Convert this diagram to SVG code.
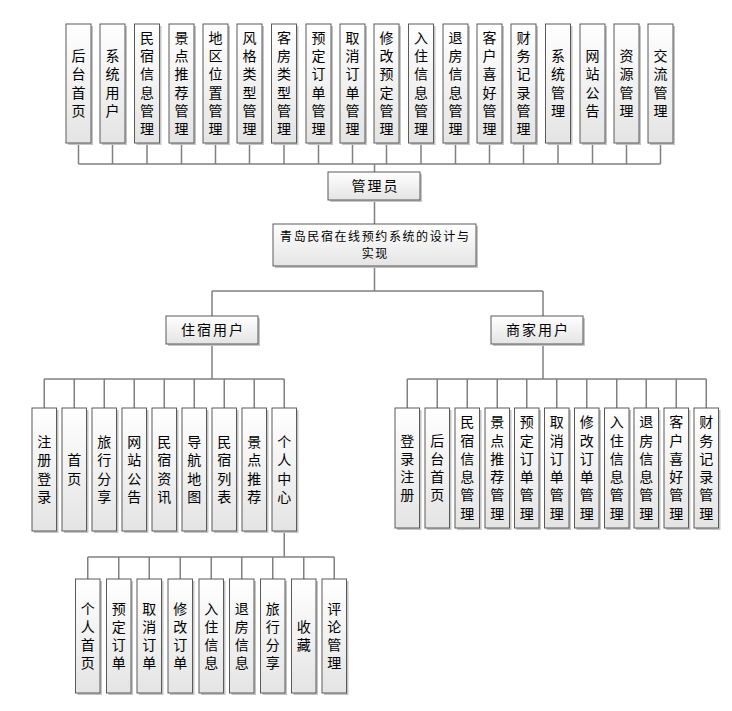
<svg xmlns="http://www.w3.org/2000/svg" width="732" height="711" viewBox="0 0 732 711">
<defs>
<linearGradient id="g" x1="0" y1="0" x2="0" y2="1"><stop offset="0" stop-color="#ffffff"/><stop offset="1" stop-color="#e4e4e4"/></linearGradient>
<style>
.b{fill:url(#g);stroke:#5a5a5a;stroke-width:1}
.s{fill:#c4c4c4}
.v{font-family:"Noto Sans CJK SC","Noto Sans CJK JP",sans-serif;font-size:14px;text-anchor:middle;fill:#000}
.h{font-family:"Noto Sans CJK SC","Noto Sans CJK JP",sans-serif;font-size:14px;text-anchor:middle;fill:#000;letter-spacing:2px}
.t{font-family:"Noto Sans CJK SC","Noto Sans CJK JP",sans-serif;font-size:12px;text-anchor:middle;fill:#000;letter-spacing:1.6px}
.c{fill:none;stroke:#808080;stroke-width:1.5}
</style>
</defs>
<rect width="732" height="711" fill="#fff"/>
<g id="connectors">
<path class="c" d="M78.5 143V164M112.5 143V164M147 143V164M181.5 143V164M215.5 143V164M249.5 143V164M284 143V164M318.5 143V164M352.5 143V164M386.5 143V164M421 143V164M455.5 143V164M489.5 143V164M523.5 143V164M558 143V164M592.5 143V164M626.5 143V164M660.5 143V164M78.5 164H660.5M374.5 164V172"/>
<path class="c" d="M374.5 200V224M374.5 266V291M212 291H543M212 291V316M543 291V316"/>
<path class="c" d="M212 344V379M44.25 379H284.25M44.25 379V408M74.25 379V408M104.25 379V408M134.25 379V408M164.25 379V408M194.25 379V408M224.25 379V408M254.25 379V408M284.25 379V408"/>
<path class="c" d="M543 344V379M407.25 379H706.25M407.25 379V408M437.25 379V408M467.25 379V408M497.25 379V408M526.75 379V408M556.75 379V408M586.75 379V408M616.75 379V408M646.25 379V408M676.25 379V408M706.25 379V408"/>
<path class="c" d="M284.25 531V557M87.75 557H334.25M87.75 557V579M118.75 557V579M149.25 557V579M180.25 557V579M211.25 557V579M241.75 557V579M272.75 557V579M303.75 557V579M334.25 557V579"/>
</g>

<g id="admin-0"><rect class="s" x="68" y="26" width="25" height="119"/><rect class="b" x="66" y="24" width="25" height="119"/><text class="v" x="78.5 78.5 78.5 78.5" y="61 79.3 97.6 115.9">后台首页</text></g>
<g id="admin-1"><rect class="s" x="102" y="26" width="25" height="119"/><rect class="b" x="100" y="24" width="25" height="119"/><text class="v" x="112.5 112.5 112.5 112.5" y="61 79.3 97.6 115.9">系统用户</text></g>
<g id="admin-2"><rect class="s" x="136.5" y="26" width="25" height="119"/><rect class="b" x="134.5" y="24" width="25" height="119"/><text class="v" x="147 147 147 147 147 147" y="42.8 61.1 79.4 97.7 116 134.3">民宿信息管理</text></g>
<g id="admin-3"><rect class="s" x="171" y="26" width="25" height="119"/><rect class="b" x="169" y="24" width="25" height="119"/><text class="v" x="181.5 181.5 181.5 181.5 181.5 181.5" y="42.8 61.1 79.4 97.7 116 134.3">景点推荐管理</text></g>
<g id="admin-4"><rect class="s" x="205" y="26" width="25" height="119"/><rect class="b" x="203" y="24" width="25" height="119"/><text class="v" x="215.5 215.5 215.5 215.5 215.5 215.5" y="42.8 61.1 79.4 97.7 116 134.3">地区位置管理</text></g>
<g id="admin-5"><rect class="s" x="239" y="26" width="25" height="119"/><rect class="b" x="237" y="24" width="25" height="119"/><text class="v" x="249.5 249.5 249.5 249.5 249.5 249.5" y="42.8 61.1 79.4 97.7 116 134.3">风格类型管理</text></g>
<g id="admin-6"><rect class="s" x="273.5" y="26" width="25" height="119"/><rect class="b" x="271.5" y="24" width="25" height="119"/><text class="v" x="284 284 284 284 284 284" y="42.8 61.1 79.4 97.7 116 134.3">客房类型管理</text></g>
<g id="admin-7"><rect class="s" x="308" y="26" width="25" height="119"/><rect class="b" x="306" y="24" width="25" height="119"/><text class="v" x="318.5 318.5 318.5 318.5 318.5 318.5" y="42.8 61.1 79.4 97.7 116 134.3">预定订单管理</text></g>
<g id="admin-8"><rect class="s" x="342" y="26" width="25" height="119"/><rect class="b" x="340" y="24" width="25" height="119"/><text class="v" x="352.5 352.5 352.5 352.5 352.5 352.5" y="42.8 61.1 79.4 97.7 116 134.3">取消订单管理</text></g>
<g id="admin-9"><rect class="s" x="376" y="26" width="25" height="119"/><rect class="b" x="374" y="24" width="25" height="119"/><text class="v" x="386.5 386.5 386.5 386.5 386.5 386.5" y="42.8 61.1 79.4 97.7 116 134.3">修改预定管理</text></g>
<g id="admin-10"><rect class="s" x="410.5" y="26" width="25" height="119"/><rect class="b" x="408.5" y="24" width="25" height="119"/><text class="v" x="421 421 421 421 421 421" y="42.8 61.1 79.4 97.7 116 134.3">入住信息管理</text></g>
<g id="admin-11"><rect class="s" x="445" y="26" width="25" height="119"/><rect class="b" x="443" y="24" width="25" height="119"/><text class="v" x="455.5 455.5 455.5 455.5 455.5 455.5" y="42.8 61.1 79.4 97.7 116 134.3">退房信息管理</text></g>
<g id="admin-12"><rect class="s" x="479" y="26" width="25" height="119"/><rect class="b" x="477" y="24" width="25" height="119"/><text class="v" x="489.5 489.5 489.5 489.5 489.5 489.5" y="42.8 61.1 79.4 97.7 116 134.3">客户喜好管理</text></g>
<g id="admin-13"><rect class="s" x="513" y="26" width="25" height="119"/><rect class="b" x="511" y="24" width="25" height="119"/><text class="v" x="523.5 523.5 523.5 523.5 523.5 523.5" y="42.8 61.1 79.4 97.7 116 134.3">财务记录管理</text></g>
<g id="admin-14"><rect class="s" x="547.5" y="26" width="25" height="119"/><rect class="b" x="545.5" y="24" width="25" height="119"/><text class="v" x="558 558 558 558" y="61 79.3 97.6 115.9">系统管理</text></g>
<g id="admin-15"><rect class="s" x="582" y="26" width="25" height="119"/><rect class="b" x="580" y="24" width="25" height="119"/><text class="v" x="592.5 592.5 592.5 592.5" y="61 79.3 97.6 115.9">网站公告</text></g>
<g id="admin-16"><rect class="s" x="616" y="26" width="25" height="119"/><rect class="b" x="614" y="24" width="25" height="119"/><text class="v" x="626.5 626.5 626.5 626.5" y="61 79.3 97.6 115.9">资源管理</text></g>
<g id="admin-17"><rect class="s" x="650" y="26" width="25" height="119"/><rect class="b" x="648" y="24" width="25" height="119"/><text class="v" x="660.5 660.5 660.5 660.5" y="61 79.3 97.6 115.9">交流管理</text></g>

<g id="admin"><rect class="s" x="330" y="174" width="92" height="28"/><rect class="b" x="328" y="172" width="92" height="28"/><text class="h" x="375.5" y="191">管理员</text></g>
<g id="system"><rect class="s" x="275" y="226" width="203" height="42"/><rect class="b" x="273" y="224" width="203" height="42"/><text class="t" x="375.3" y="241.3">青岛民宿在线预约系统的设计与</text><text class="t" x="375.3" y="258">实现</text></g>
<g id="guest"><rect class="s" x="168" y="318" width="92" height="28"/><rect class="b" x="166" y="316" width="92" height="28"/><text class="h" x="213" y="335">住宿用户</text></g>
<g id="merchant"><rect class="s" x="493" y="318" width="92" height="28"/><rect class="b" x="491" y="316" width="92" height="28"/><text class="h" x="538" y="335">商家用户</text></g>

<g id="guest-0"><rect class="s" x="34" y="410" width="24.5" height="123"/><rect class="b" x="32" y="408" width="24.5" height="123"/><text class="v" x="44.25 44.25 44.25 44.25" y="447 465.3 483.6 501.9">注册登录</text></g>
<g id="guest-1"><rect class="s" x="64" y="410" width="24.5" height="123"/><rect class="b" x="62" y="408" width="24.5" height="123"/><text class="v" x="74.25 74.25" y="465.3 483.6">首页</text></g>
<g id="guest-2"><rect class="s" x="94" y="410" width="24.5" height="123"/><rect class="b" x="92" y="408" width="24.5" height="123"/><text class="v" x="104.25 104.25 104.25 104.25" y="447 465.3 483.6 501.9">旅行分享</text></g>
<g id="guest-3"><rect class="s" x="124" y="410" width="24.5" height="123"/><rect class="b" x="122" y="408" width="24.5" height="123"/><text class="v" x="134.25 134.25 134.25 134.25" y="447 465.3 483.6 501.9">网站公告</text></g>
<g id="guest-4"><rect class="s" x="154" y="410" width="24.5" height="123"/><rect class="b" x="152" y="408" width="24.5" height="123"/><text class="v" x="164.25 164.25 164.25 164.25" y="447 465.3 483.6 501.9">民宿资讯</text></g>
<g id="guest-5"><rect class="s" x="184" y="410" width="24.5" height="123"/><rect class="b" x="182" y="408" width="24.5" height="123"/><text class="v" x="194.25 194.25 194.25 194.25" y="447 465.3 483.6 501.9">导航地图</text></g>
<g id="guest-6"><rect class="s" x="214" y="410" width="24.5" height="123"/><rect class="b" x="212" y="408" width="24.5" height="123"/><text class="v" x="224.25 224.25 224.25 224.25" y="447 465.3 483.6 501.9">民宿列表</text></g>
<g id="guest-7"><rect class="s" x="244" y="410" width="24.5" height="123"/><rect class="b" x="242" y="408" width="24.5" height="123"/><text class="v" x="254.25 254.25 254.25 254.25" y="447 465.3 483.6 501.9">景点推荐</text></g>
<g id="guest-8"><rect class="s" x="274" y="410" width="24.5" height="123"/><rect class="b" x="272" y="408" width="24.5" height="123"/><text class="v" x="284.25 284.25 284.25 284.25" y="447 465.3 483.6 501.9">个人中心</text></g>

<g id="merchant-0"><rect class="s" x="397" y="410" width="24.5" height="120"/><rect class="b" x="395" y="408" width="24.5" height="120"/><text class="v" x="407.25 407.25 407.25 407.25" y="445.5 463.8 482.1 500.4">登录注册</text></g>
<g id="merchant-1"><rect class="s" x="427" y="410" width="24.5" height="120"/><rect class="b" x="425" y="408" width="24.5" height="120"/><text class="v" x="437.25 437.25 437.25 437.25" y="445.5 463.8 482.1 500.4">后台首页</text></g>
<g id="merchant-2"><rect class="s" x="457" y="410" width="24.5" height="120"/><rect class="b" x="455" y="408" width="24.5" height="120"/><text class="v" x="467.25 467.25 467.25 467.25 467.25 467.25" y="427.2 445.5 463.8 482.1 500.4 518.7">民宿信息管理</text></g>
<g id="merchant-3"><rect class="s" x="487" y="410" width="24.5" height="120"/><rect class="b" x="485" y="408" width="24.5" height="120"/><text class="v" x="497.25 497.25 497.25 497.25 497.25 497.25" y="427.2 445.5 463.8 482.1 500.4 518.7">景点推荐管理</text></g>
<g id="merchant-4"><rect class="s" x="516.5" y="410" width="24.5" height="120"/><rect class="b" x="514.5" y="408" width="24.5" height="120"/><text class="v" x="526.75 526.75 526.75 526.75 526.75 526.75" y="427.2 445.5 463.8 482.1 500.4 518.7">预定订单管理</text></g>
<g id="merchant-5"><rect class="s" x="546.5" y="410" width="24.5" height="120"/><rect class="b" x="544.5" y="408" width="24.5" height="120"/><text class="v" x="556.75 556.75 556.75 556.75 556.75 556.75" y="427.2 445.5 463.8 482.1 500.4 518.7">取消订单管理</text></g>
<g id="merchant-6"><rect class="s" x="576.5" y="410" width="24.5" height="120"/><rect class="b" x="574.5" y="408" width="24.5" height="120"/><text class="v" x="586.75 586.75 586.75 586.75 586.75 586.75" y="427.2 445.5 463.8 482.1 500.4 518.7">修改订单管理</text></g>
<g id="merchant-7"><rect class="s" x="606.5" y="410" width="24.5" height="120"/><rect class="b" x="604.5" y="408" width="24.5" height="120"/><text class="v" x="616.75 616.75 616.75 616.75 616.75 616.75" y="427.2 445.5 463.8 482.1 500.4 518.7">入住信息管理</text></g>
<g id="merchant-8"><rect class="s" x="636" y="410" width="24.5" height="120"/><rect class="b" x="634" y="408" width="24.5" height="120"/><text class="v" x="646.25 646.25 646.25 646.25 646.25 646.25" y="427.2 445.5 463.8 482.1 500.4 518.7">退房信息管理</text></g>
<g id="merchant-9"><rect class="s" x="666" y="410" width="24.5" height="120"/><rect class="b" x="664" y="408" width="24.5" height="120"/><text class="v" x="676.25 676.25 676.25 676.25 676.25 676.25" y="427.2 445.5 463.8 482.1 500.4 518.7">客户喜好管理</text></g>
<g id="merchant-10"><rect class="s" x="696" y="410" width="24.5" height="120"/><rect class="b" x="694" y="408" width="24.5" height="120"/><text class="v" x="706.25 706.25 706.25 706.25 706.25 706.25" y="427.2 445.5 463.8 482.1 500.4 518.7">财务记录管理</text></g>

<g id="center-0"><rect class="s" x="77.5" y="581" width="24.5" height="114"/><rect class="b" x="75.5" y="579" width="24.5" height="114"/><text class="v" x="87.75 87.75 87.75 87.75" y="613.5 631.8 650.1 668.4">个人首页</text></g>
<g id="center-1"><rect class="s" x="108.5" y="581" width="24.5" height="114"/><rect class="b" x="106.5" y="579" width="24.5" height="114"/><text class="v" x="118.75 118.75 118.75 118.75" y="613.5 631.8 650.1 668.4">预定订单</text></g>
<g id="center-2"><rect class="s" x="139" y="581" width="24.5" height="114"/><rect class="b" x="137" y="579" width="24.5" height="114"/><text class="v" x="149.25 149.25 149.25 149.25" y="613.5 631.8 650.1 668.4">取消订单</text></g>
<g id="center-3"><rect class="s" x="170" y="581" width="24.5" height="114"/><rect class="b" x="168" y="579" width="24.5" height="114"/><text class="v" x="180.25 180.25 180.25 180.25" y="613.5 631.8 650.1 668.4">修改订单</text></g>
<g id="center-4"><rect class="s" x="201" y="581" width="24.5" height="114"/><rect class="b" x="199" y="579" width="24.5" height="114"/><text class="v" x="211.25 211.25 211.25 211.25" y="613.5 631.8 650.1 668.4">入住信息</text></g>
<g id="center-5"><rect class="s" x="231.5" y="581" width="24.5" height="114"/><rect class="b" x="229.5" y="579" width="24.5" height="114"/><text class="v" x="241.75 241.75 241.75 241.75" y="613.5 631.8 650.1 668.4">退房信息</text></g>
<g id="center-6"><rect class="s" x="262.5" y="581" width="24.5" height="114"/><rect class="b" x="260.5" y="579" width="24.5" height="114"/><text class="v" x="272.75 272.75 272.75 272.75" y="613.5 631.8 650.1 668.4">旅行分享</text></g>
<g id="center-7"><rect class="s" x="293.5" y="581" width="24.5" height="114"/><rect class="b" x="291.5" y="579" width="24.5" height="114"/><text class="v" x="303.75 303.75" y="631.8 650.1">收藏</text></g>
<g id="center-8"><rect class="s" x="324" y="581" width="24.5" height="114"/><rect class="b" x="322" y="579" width="24.5" height="114"/><text class="v" x="334.25 334.25 334.25 334.25" y="613.5 631.8 650.1 668.4">评论管理</text></g>
</svg>
